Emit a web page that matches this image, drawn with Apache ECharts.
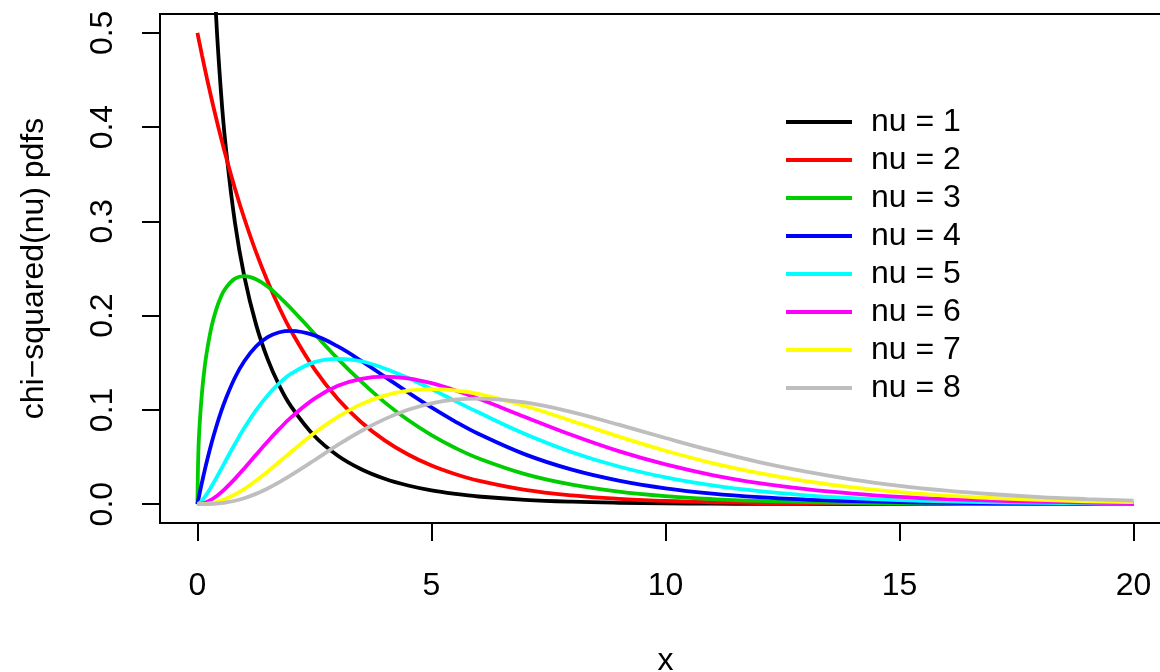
<!DOCTYPE html>
<html>
<head>
<meta charset="utf-8">
<script src="https://cdn.jsdelivr.net/npm/echarts@6/dist/echarts.min.js"></script>
<style>
    html, body { margin: 0; padding: 0; background: #fff; }
    #chart { width: 1160px; height: 672px; }
</style>
</head>
<body>
<div id="chart"></div>
<script>
var xValues = [0, 0.02, 0.05, 0.1, 0.15, 0.2, 0.3, 0.4, 0.5, 0.6, 0.8, 1, 1.25, 1.5, 1.75, 2, 2.5, 3, 3.5, 4, 4.5, 5, 5.5, 6,
    7, 8, 9, 10, 11, 12, 13, 14, 15, 16, 17, 18, 19, 20];

var pdf1 = [null, 2.793, 1.740, 1.200, 0.956, 0.807, 0.627, 0.516, 0.439, 0.3815, 0.299, 0.2420, 0.191, 0.1539, 0.1257, 0.1038, 0.0723, 0.0514, 0.0371, 0.0270, 0.0198, 0.0146, 0.0109, 0.0081,
    0.0046, 0.0026, 0.0015, 0.0009, 0.0005, 0.0003, 0.0002, 0.0001, 0.0001, 0, 0, 0, 0, 0];
var pdf2 = [0.5, 0.495, 0.4877, 0.4756, 0.4639, 0.4524, 0.4304, 0.4094, 0.3894, 0.3704, 0.3352, 0.3033, 0.2676, 0.2362, 0.2084, 0.1839, 0.1433, 0.1116, 0.0869, 0.0677, 0.0527, 0.0410, 0.0320, 0.0249,
    0.0151, 0.0092, 0.0056, 0.0034, 0.0020, 0.0012, 0.0008, 0.0005, 0.0003, 0.0002, 0.0001, 0.0001, 0, 0];
var pdf3 = [0, 0.0559, 0.0870, 0.1200, 0.1434, 0.1614, 0.1881, 0.2064, 0.2197, 0.2289, 0.2392, 0.2420, 0.2387, 0.2308, 0.2200, 0.2076, 0.1808, 0.1542, 0.1299, 0.1080, 0.0892, 0.0732, 0.0598, 0.0487,
    0.0319, 0.0207, 0.0133, 0.0085, 0.0054, 0.0034, 0.0022, 0.0014, 0.0009, 0.0005, 0.0003, 0.0002, 0.0001, 0.0001];
var pdf4 = [0, 0.0050, 0.0122, 0.0238, 0.0348, 0.0452, 0.0646, 0.0819, 0.0974, 0.1111, 0.1341, 0.1516, 0.1673, 0.1771, 0.1824, 0.1839, 0.1791, 0.1673, 0.1520, 0.1353, 0.1186, 0.1026, 0.0879, 0.0747,
    0.0528, 0.0366, 0.0250, 0.0168, 0.0112, 0.0074, 0.0049, 0.0032, 0.0021, 0.0013, 0.0009, 0.0006, 0.0004, 0.0002];
var pdf5 = [0, 0.0004, 0.0015, 0.0040, 0.0072, 0.0108, 0.0188, 0.0275, 0.0366, 0.0458, 0.0638, 0.0807, 0.0995, 0.1154, 0.1283, 0.1384, 0.1507, 0.1542, 0.1516, 0.1440, 0.1338, 0.1220, 0.1096, 0.0974,
    0.0744, 0.0551, 0.0399, 0.0283, 0.0198, 0.0137, 0.0094, 0.0064, 0.0043, 0.0029, 0.0019, 0.0013, 0.0008, 0.0005];
var pdf6 = [0, 0, 0.0002, 0.0006, 0.0013, 0.0023, 0.0048, 0.0082, 0.0122, 0.0167, 0.0268, 0.0379, 0.0523, 0.0664, 0.0798, 0.0920, 0.1119, 0.1255, 0.1330, 0.1353, 0.1334, 0.1283, 0.1209, 0.1120,
    0.0925, 0.0733, 0.0562, 0.0421, 0.0309, 0.0223, 0.0159, 0.0112, 0.0078, 0.0054, 0.0037, 0.0025, 0.0017, 0.0011];
var pdf7 = [0, 0, 0, 0.0001, 0.0002, 0.0004, 0.0011, 0.0022, 0.0037, 0.0055, 0.0102, 0.0161, 0.0249, 0.0346, 0.0449, 0.0554, 0.0754, 0.0925, 0.1061, 0.1152, 0.1204, 0.1220, 0.1206, 0.1169,
    0.1041, 0.0882, 0.0718, 0.0567, 0.0436, 0.0329, 0.0244, 0.0178, 0.0128, 0.0091, 0.0065, 0.0045, 0.0031, 0.0022];
var pdf8 = [0, 0, 0, 0, 0, 0.0001, 0.0002, 0.0005, 0.0010, 0.0017, 0.0036, 0.0063, 0.0109, 0.0166, 0.0233, 0.0307, 0.0466, 0.0628, 0.0776, 0.0902, 0.1001, 0.1069, 0.1108, 0.1120,
    0.1079, 0.0977, 0.0843, 0.0702, 0.0567, 0.0446, 0.0345, 0.0261, 0.0195, 0.0144, 0.0105, 0.0075, 0.0054, 0.0037];

var seriesNames = ['nu = 1', 'nu = 2', 'nu = 3', 'nu = 4', 'nu = 5', 'nu = 6', 'nu = 7', 'nu = 8'];
var seriesColors = ['#000000', '#ff0000', '#00cd00', '#0000ff', '#00ffff', '#ff00ff', '#ffff00', '#bebebe'];
var xTicks = [0, 5, 10, 15, 20];
var yTicks = [0, 0.1, 0.2, 0.3, 0.4, 0.5];

var FONT = '"Liberation Sans", Arial, Helvetica, sans-serif';
var FONT_SIZE = 32;

var init = function () {
    var myChart = echarts.init(document.getElementById('chart'), null, {renderer: 'canvas'});
    var allPdfs = [pdf1, pdf2, pdf3, pdf4, pdf5, pdf6, pdf7, pdf8];
    var series = [];
    for (var i = 0; i < allPdfs.length; i++) {
        var points = [];
        for (var j = 0; j < xValues.length; j++) {
            points.push([xValues[j], allPdfs[i][j]]);
        }
        series.push({
            name: seriesNames[i],
            type: 'line',
            data: points,
            showSymbol: false,
            symbol: 'none',
            smooth: 0.4,
            clip: true,
            color: seriesColors[i],
            lineStyle: {color: seriesColors[i], width: 3.8}
        });
    }

    myChart.setOption({
        animation: false,
        backgroundColor: '#fff',
        grid: {
            left: 160, top: 14, width: 1011, height: 509,
            outerBoundsMode: 'none', containLabel: false,
            show: true, borderColor: '#000', borderWidth: 2, backgroundColor: 'transparent'
        },
        legend: {
            orient: 'vertical',
            left: 781, top: 101,
            itemWidth: 66, itemHeight: 4, itemGap: 6,
            icon: 'path://M0,0L66,0L66,4L0,4Z',
            data: seriesNames,
            textStyle: {fontFamily: FONT, fontSize: FONT_SIZE, color: '#000', lineHeight: 32, padding: [0, 0, 0, 14]}
        },
        xAxis: {
            type: 'value', min: -0.8, max: 20.8,
            name: 'x', nameLocation: 'middle', nameGap: 122,
            nameTextStyle: {fontFamily: FONT, fontSize: FONT_SIZE, color: '#000'},
            axisLine: {show: false, onZero: false},
            splitLine: {show: false},
            axisTick: {show: true, length: 18, customValues: xTicks, lineStyle: {color: '#000', width: 2}},
            axisLabel: {customValues: xTicks, margin: 47, fontFamily: FONT, fontSize: FONT_SIZE, color: '#000'}
        },
        yAxis: {
            type: 'value', min: -0.02, max: 0.52,
            name: 'chi\u2212squared(nu) pdfs', nameLocation: 'middle', nameGap: 110, nameRotate: 90,
            nameTextStyle: {fontFamily: FONT, fontSize: FONT_SIZE, color: '#000'},
            axisLine: {show: false, onZero: false},
            splitLine: {show: false},
            axisTick: {show: true, length: 18, customValues: yTicks, lineStyle: {color: '#000', width: 2}},
            axisLabel: {
                customValues: yTicks, margin: 41, rotate: 90, fontFamily: FONT, fontSize: FONT_SIZE, color: '#000',
                formatter: function (v) { return v.toFixed(1); }
            }
        },
        series: series
    });
};

init();
</script>
</body>
</html>
